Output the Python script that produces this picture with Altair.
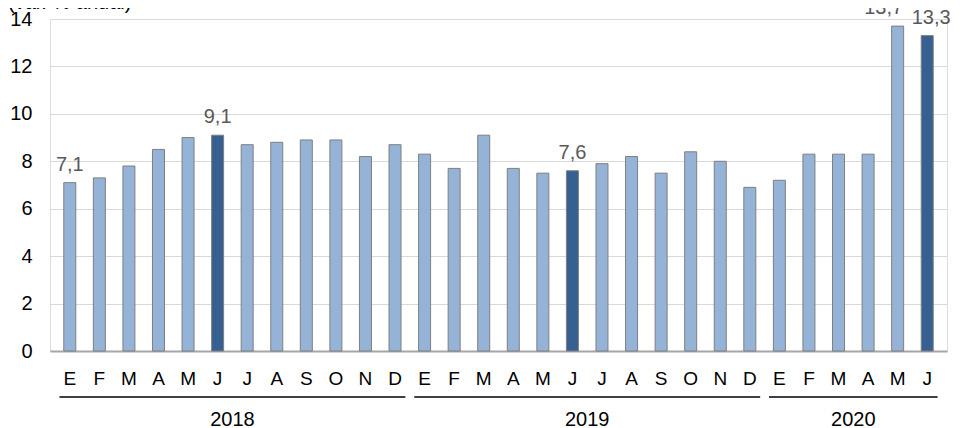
import altair as alt
import pandas as pd

# ---- data ----
month_letters = ["E", "F", "M", "A", "M", "J", "J", "A", "S", "O", "N", "D"]
years = [2018, 2019, 2020]
values_2018 = [7.1, 7.3, 7.8, 8.5, 9.0, 9.1, 8.7, 8.8, 8.9, 8.9, 8.2, 8.7]
values_2019 = [8.3, 7.7, 9.1, 7.7, 7.5, 7.6, 7.9, 8.2, 7.5, 8.4, 8.0, 6.9]
values_2020 = [7.2, 8.3, 8.3, 8.3, 13.7, 13.3]
highlighted = ["2018-06", "2019-06", "2020-06"]
labeled = ["2018-01", "2018-06", "2019-06", "2020-05", "2020-06"]
y_ticks = [0, 2, 4, 6, 8, 10, 12, 14]
y_title = "(var. % anual)"

rows = []
i = 0
for yr, vals in zip(years, [values_2018, values_2019, values_2020]):
    for m, v in enumerate(vals):
        rows.append({"idx": i, "year": yr, "month": month_letters[m],
                     "period": f"{yr}-{m + 1:02d}", "value": v,
                     "dark": f"{yr}-{m + 1:02d}" in highlighted,
                     "lab": f"{yr}-{m + 1:02d}" in labeled})
        i += 1
df = pd.DataFrame(rows)
n = len(df)

yr_df = df.groupby("year")["idx"].agg(["min", "max"]).reset_index()
yr_df["year_txt"] = yr_df["year"].astype(str)

FONT = "Liberation Sans"

xscale = alt.Scale(domain=[-0.5, n - 0.5], nice=False, zero=False)
yscale = alt.Scale(domain=[0, 14], nice=False)

bars = alt.Chart(df).mark_bar(width=12, stroke="#7f7f7f", strokeWidth=1).encode(
    x=alt.X("idx:Q", scale=xscale,
            axis=alt.Axis(labels=False, title=None, grid=False, ticks=False,
                          domainColor="#a6a6a6", domainWidth=2)),
    y=alt.Y("value:Q", scale=yscale,
            axis=alt.Axis(values=y_ticks, title=None, grid=True, gridColor="#d9d9d9",
                          gridWidth=1, domain=False, ticks=False, labelFontSize=20,
                          labelFont=FONT, labelColor="#000000", labelPadding=18)),
    color=alt.condition("datum.dark", alt.value("#366092"), alt.value("#95b3d7")),
)

month_text = alt.Chart(df).mark_text(baseline="alphabetic", fontSize=19, font=FONT,
                                     color="#000000").encode(
    x=alt.X("idx:Q", scale=xscale), y=alt.value(366), text="month:N"
)

lab_base = alt.Chart(df).transform_filter("datum.lab").transform_calculate(
    txt="replace(format(datum.value, '.1f'), '.', ',')"
)
text_kw = dict(baseline="alphabetic", fontSize=20, font=FONT, color="#595959", dy=-12)
enc = dict(x=alt.X("idx:Q", scale=xscale), y=alt.Y("value:Q", scale=yscale), text="txt:N")
labels_mid = lab_base.transform_filter(
    "datum.period != '2020-05' && datum.period != '2020-06'"
).mark_text(**text_kw).encode(**enc)
labels_left = lab_base.transform_filter("datum.period == '2020-05'").mark_text(
    dx=-14, **text_kw).encode(**enc)
labels_right = lab_base.transform_filter("datum.period == '2020-06'").mark_text(
    dx=4, **text_kw).encode(**enc)

yr_base = alt.Chart(yr_df).transform_calculate(
    x1="datum.min - 0.35", x2="datum.max + 0.35", xc="(datum.min + datum.max) / 2"
)
yr_lines = yr_base.mark_rule(color="#000000", strokeWidth=1.5).encode(
    x=alt.X("x1:Q", scale=xscale), x2="x2:Q", y=alt.value(378)
)
yr_text = yr_base.mark_text(baseline="alphabetic", fontSize=20, font=FONT,
                            color="#000000").encode(
    x=alt.X("xc:Q", scale=xscale), y=alt.value(407), text="year_txt:N"
)

title_df = pd.DataFrame({"t": [y_title]})
title = alt.Chart(title_df).mark_text(align="left", baseline="alphabetic", fontSize=20,
                                      font=FONT, color="#000000").encode(
    x=alt.value(-42), y=alt.value(-10), text="t:N"
)

chart = alt.layer(bars, month_text, labels_mid, labels_left, labels_right,
                  yr_lines, yr_text, title).properties(
    width=897, height=332,
    autosize=alt.AutoSizeParams(type="none"),
    padding={"left": 42, "top": 11, "right": 5, "bottom": 77},
).configure_view(stroke=None).configure(background="#ffffff")

chart.save("out.html", embed_options={"renderer": "svg", "actions": False})
